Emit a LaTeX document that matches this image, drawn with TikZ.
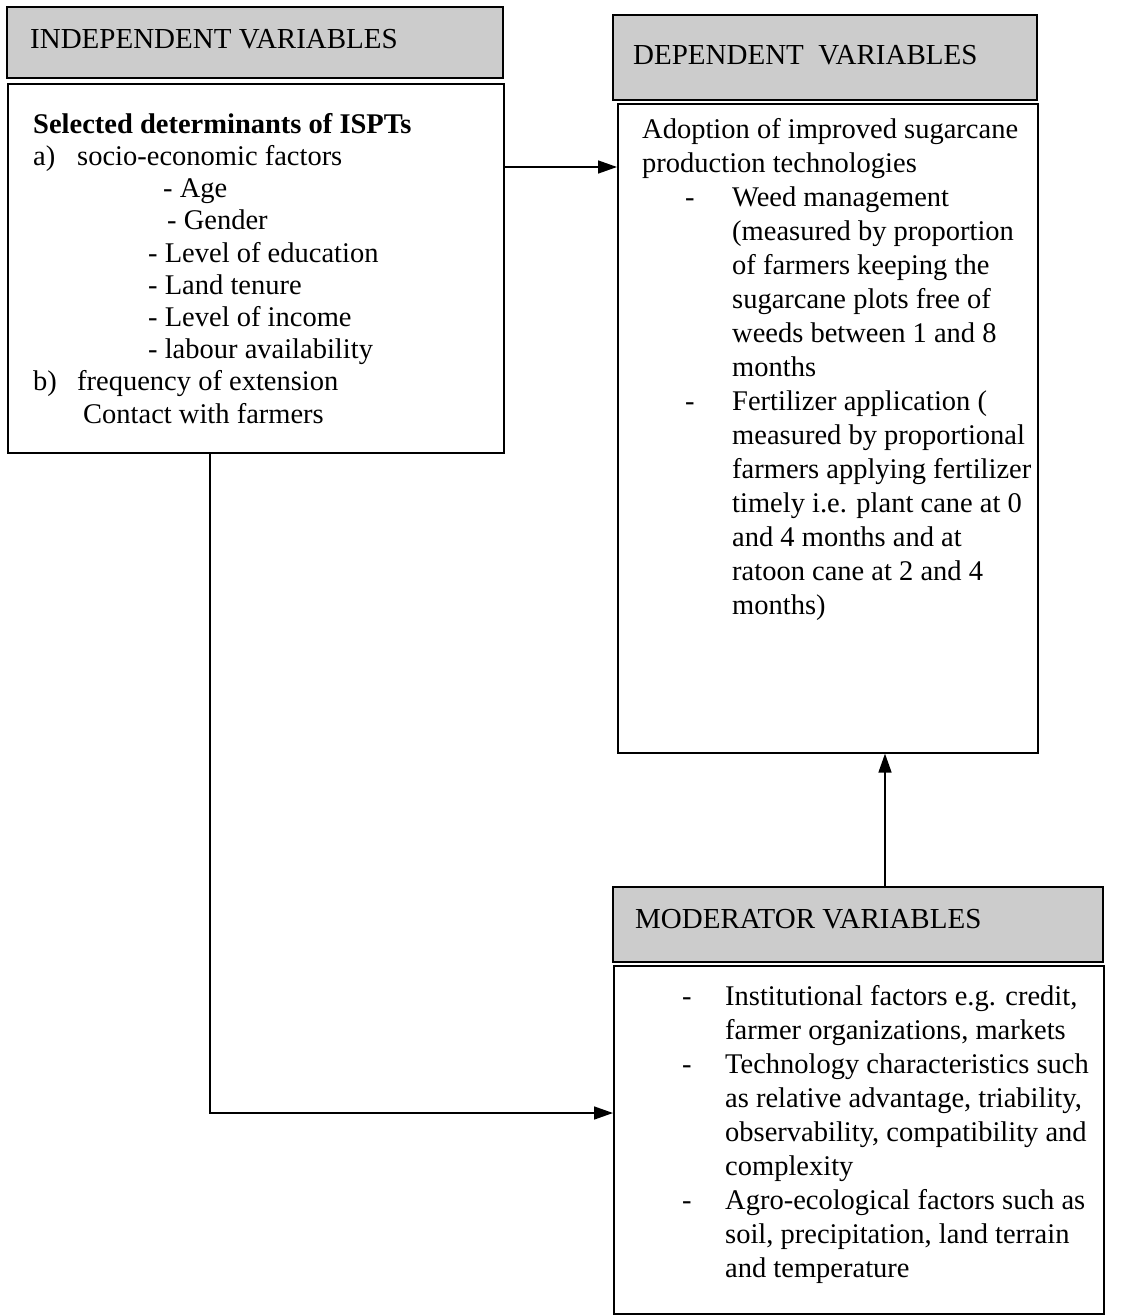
\documentclass[tikz,border=0pt]{standalone}
\usepackage{fontspec}
\setmainfont{Liberation Serif}
\usetikzlibrary{arrows.meta}
\newcommand\bodyfnt{\fontsize{28.5}{32}\selectfont}
\newcommand\headfnt{\fontsize{29}{32}\selectfont}
\tikzset{
  box/.style={draw=black, line width=1.6pt},
  headbox/.style={draw=black, line width=1.6pt, fill=black!20},
  txt/.style={anchor=base west, inner sep=0pt, font=\bodyfnt},
  htxt/.style={anchor=base west, inner sep=0pt, font=\headfnt},
  conn/.style={line width=1.5pt, -{Triangle[length=19pt,width=13pt]}},
  plain/.style={line width=1.5pt}
}
\begin{document}
\begin{tikzpicture}[x=1pt,y=-1pt]
\useasboundingbox (0,0) rectangle (1137,1315);
% ---------- boxes ----------
\path[headbox] (7,7) rectangle (503,78);
\node[box, inner sep=0pt, minimum width=496pt, minimum height=369pt, anchor=north west] (ind) at (7,83) {};
\path[headbox] (613,15) rectangle (1037,100);
\node[box, inner sep=0pt, minimum width=420pt, minimum height=649pt, anchor=north west] (dep) at (617,103) {};
\path[headbox] (613,887) rectangle (1103,962);
\node[box, inner sep=0pt, minimum width=490pt, minimum height=348pt, anchor=north west] (mod) at (613,965) {};
\coordinate (modtop) at (885,887);
% ---------- headers ----------
\node[htxt] (h1) at (30,48) {INDEPENDENT VARIABLES};
\node[htxt] (h2) at (633,64) {DEPENDENT\ \ VARIABLES};
\node[htxt] (h3) at (635,928) {MODERATOR VARIABLES};
% ---------- independent text ----------
\node[txt] (i1) at (33,133) {\textbf{Selected determinants of ISPTs}};
\node[txt] (i2a) at (33,165) {a)};
\node[txt] (i2) at (77,165) {socio-economic factors};
\node[txt] (i3) at (163,197) {- Age};
\node[txt] (i4) at (167,229) {- Gender};
\node[txt] (i5) at (148,262) {- Level of education};
\node[txt] (i6) at (148,294) {- Land tenure};
\node[txt] (i7) at (148,326) {- Level of income};
\node[txt] (i8) at (148,358) {- labour availability};
\node[txt] (i9a) at (33,390) {b)};
\node[txt] (i9) at (77,390) {frequency of extension};
\node[txt] (i10) at (83,423) {Contact with farmers};
% ---------- dependent text ----------
\node[txt] (d1) at (642,138) {Adoption of improved sugarcane};
\node[txt] (d2) at (642,172) {production technologies};
\node[txt] (dd1) at (685,206) {-};
\node[txt] (d3) at (732,206) {Weed management};
\node[txt] (d4) at (732,240) {(measured by proportion};
\node[txt] (d5) at (732,274) {of farmers keeping the};
\node[txt] (d6) at (732,308) {sugarcane plots free of};
\node[txt] (d7) at (732,342) {weeds between 1 and 8};
\node[txt] (d8) at (732,376) {months};
\node[txt] (dd2) at (685,410) {-};
\node[txt] (d9) at (732,410) {Fertilizer application (};
\node[txt] (d10) at (732,444) {measured by proportional};
\node[txt] (d11) at (732,478) {farmers applying fertilizer};
\node[txt] (d12) at (732,512) {timely i.e. plant cane at 0};
\node[txt] (d13) at (732,546) {and 4 months and at};
\node[txt] (d14) at (732,580) {ratoon cane at 2 and 4};
\node[txt] (d15) at (732,614) {months)};
% ---------- moderator text ----------
\node[txt] (md1) at (682,1005) {-};
\node[txt] (m1) at (725,1005) {Institutional factors e.g. credit,};
\node[txt] (m2) at (725,1039) {farmer organizations, markets};
\node[txt] (md2) at (682,1073) {-};
\node[txt] (m3) at (725,1073) {Technology characteristics such};
\node[txt] (m4) at (725,1107) {as relative advantage, triability,};
\node[txt] (m5) at (725,1141) {observability, compatibility and};
\node[txt] (m6) at (725,1175) {complexity};
\node[txt] (md3) at (682,1209) {-};
\node[txt] (m7) at (725,1209) {Agro-ecological factors such as};
\node[txt] (m8) at (725,1243) {soil, precipitation, land terrain};
\node[txt] (m9) at (725,1277) {and temperature};
% ---------- connectors ----------
\draw[conn] (ind.east |- 0,167) -- (dep.west |- 0,167);
\draw[conn] (modtop) -- (modtop |- dep.south);
\draw[conn] (ind.south -| 210,0) |- (mod.west |- 0,1113);
\end{tikzpicture}
\end{document}
